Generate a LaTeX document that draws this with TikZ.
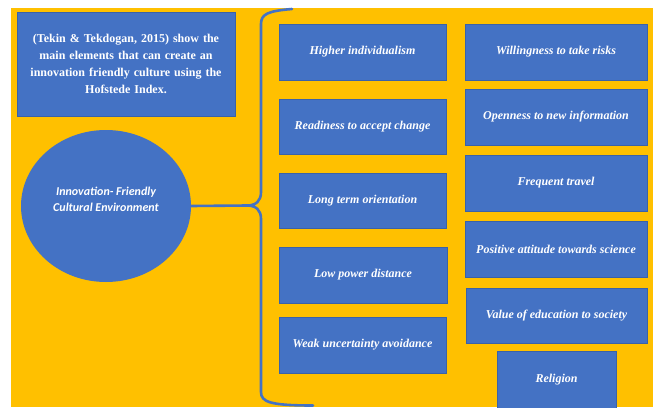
\documentclass[tikz,border=0pt]{standalone}
\usepackage{fontspec}
\usetikzlibrary{shapes.geometric}
\setmainfont{Liberation Serif}
\newfontfamily\calfont{Carlito}
\definecolor{bgy}{HTML}{FFC000}
\definecolor{boxb}{HTML}{4472C4}
\definecolor{boxe}{HTML}{3A62A8}
\begin{document}
\begin{tikzpicture}[x=1pt,y=-1pt,
  item/.style={draw=boxe, line width=0.6pt, fill=boxb, text=white, font=\fontsize{12}{14}\selectfont\bfseries\itshape, inner sep=0pt},
]
\useasboundingbox (0,0) rectangle (656,407);
\fill[white] (0,0) rectangle (656,407);
\fill[bgy] (11,8) rectangle (653,407);
% top-left note
\node[item, font=\fontsize{12}{16.8}\selectfont\bfseries, minimum width=218pt, minimum height=104pt, align=center, text width=214pt] (note) at (126,64)
 {(Tekin \& Tekdogan, 2015) show the\\ main elements that can create an\\ innovation friendly culture using the\\ Hofstede Index.};
% ellipse
\node[draw=none, fill=boxb, ellipse, minimum width=170pt, minimum height=152pt, inner sep=0pt] (env) at (106,206) {};
\node[text=white, font=\calfont\fontsize{12}{16}\selectfont\bfseries\itshape, align=center] (envt) at (106,199) {Innovation- Friendly\\Cultural Environment};
% left column
\node[item, minimum width=167pt, minimum height=56pt] (l1) at (362.5,52) {Higher individualism};
\node[item, minimum width=167pt, minimum height=55pt] (l2) at (362.5,126.5) {Readiness to accept change};
\node[item, minimum width=167pt, minimum height=55pt] (l3) at (362.5,200.5) {Long term orientation};
\node[item, minimum width=168pt, minimum height=56pt] (l4) at (363,275) {Low power distance};
\node[item, minimum width=167pt, minimum height=56pt] (l5) at (362.5,345) {Weak uncertainty avoidance};
% right column
\node[item, minimum width=182pt, minimum height=56pt] (r1) at (556,52) {Willingness to take risks};
\node[item, minimum width=182pt, minimum height=56pt] (r2) at (556,117) {Openness to new information};
\node[item, minimum width=182pt, minimum height=56pt] (r3) at (556,183) {Frequent travel};
\node[item, minimum width=182pt, minimum height=56pt] (r4) at (556,249) {Positive attitude towards science};
\node[item, minimum width=181pt, minimum height=55pt] (r5) at (556.5,315.5) {Value of education to society};
\node[item, minimum width=119pt, minimum height=58pt] (r6) at (556.5,380) {Religion};
% brace
\coordinate (tip) at (247,205.5);
\coordinate (btop) at (292,9);
\coordinate (bbot) at (313,405.5);
\draw[boxb, line width=2.6pt, line cap=round, line join=round]
  (btop) .. controls (268,11) and (261,14) .. (261,24)
  -- (261,192) .. controls (261,201) and (256,205.5) .. (tip)
  .. controls (256,205.5) and (261,210) .. (261,219)
  -- (261,392) .. controls (261,402) and (270,405.5) .. (bbot);
\draw[boxb, line width=2.6pt] (env.east) -- (tip);
\end{tikzpicture}
\end{document}
